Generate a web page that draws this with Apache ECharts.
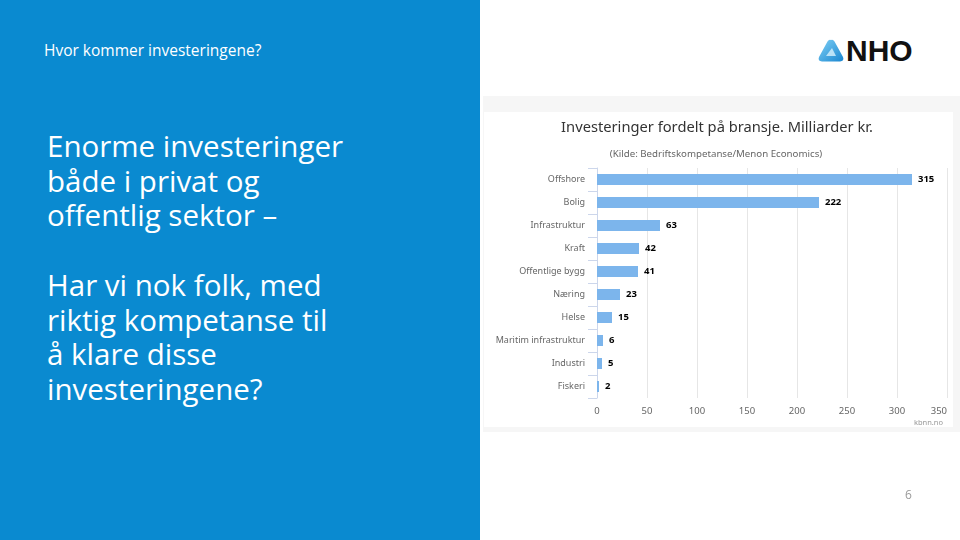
<!DOCTYPE html>
<html>
<head>
<meta charset="utf-8">
<script src="https://cdn.jsdelivr.net/npm/echarts@6/dist/echarts.min.js"></script>
<style>
  html, body { margin: 0; padding: 0; width: 960px; height: 540px; overflow: hidden; background: #fff; }
  .slide { position: relative; width: 960px; height: 540px; font-family: 'Open Sans', 'Noto Sans', sans-serif; }
  .left-panel { position: absolute; left: 0; top: 0; width: 480px; height: 540px; background: #0a8ad0; }
  .kicker { position: absolute; left: 44px; top: 39px; font-size: 15.5px; color: #fff; }
  .headline { position: absolute; left: 47px; font-size: 29.5px; line-height: 34.5px; color: #fff; }
  .img-frame { position: absolute; left: 483px; top: 96px; width: 477px; height: 336px; background: #f6f6f6; }
  .img-inner { position: absolute; left: 484px; top: 112px; width: 469px; height: 315px; background: #fff; }
  #chart { position: absolute; left: 0; top: 0; width: 960px; height: 540px; }
  .logo { position: absolute; left: 817px; top: 34px; display: flex; align-items: center; }
  .logo span { font-family: 'Liberation Sans', Arial, sans-serif; font-size: 30px; font-weight: 700; color: #111; margin-left: 1px; }
  .page-no { position: absolute; left: 905px; top: 486px; font-size: 12px; color: #9a9a9a; }
</style>
</head>
<body>
<div class="slide">
  <div class="left-panel">
    <div class="kicker">Hvor kommer investeringene?</div>
    <div class="headline" style="top:129px">Enorme investeringer<br>både i privat og<br>offentlig sektor –</div>
    <div class="headline" style="top:268px">Har vi nok folk, med<br>riktig kompetanse til<br>å klare disse<br>investeringene?</div>
  </div>
  <div class="img-frame"></div>
  <div class="img-inner"></div>
  <div class="logo">
    <svg width="28" height="26" viewBox="0 0 28 26">
      <defs>
        <linearGradient id="lg" x1="0" y1="0" x2="1" y2="1">
          <stop offset="0" stop-color="#7fd0f5"/>
          <stop offset="1" stop-color="#1a86d0"/>
        </linearGradient>
      </defs>
      <path d="M14 2 Q16 1 17.5 3.5 L26 19 Q27.5 23 23 23.5 L5 23.5 Q0.5 23 2 19 L10.5 3.5 Q12 1 14 2 Z" fill="url(#lg)"/>
      <path d="M9 18 L15 10 L19 18 Z" fill="#d8f1fc" opacity="0.8"/>
    </svg>
    <span>NHO</span>
  </div>
  <div id="chart"></div>
  <div class="page-no">6</div>
</div>
<script>
const categories = ['Offshore', 'Bolig', 'Infrastruktur', 'Kraft', 'Offentlige bygg', 'Næring', 'Helse', 'Maritim infrastruktur', 'Industri', 'Fiskeri'];
const values = [315, 222, 63, 42, 41, 23, 15, 6, 5, 2];

const chart = echarts.init(document.getElementById('chart'), null, { renderer: 'canvas' });

chart.setOption({
  backgroundColor: 'transparent',
  animation: false,
  textStyle: { fontFamily: "'Noto Sans', 'Open Sans', sans-serif" },
  title: [
    {
      text: 'Investeringer fordelt på bransje. Milliarder kr.',
      left: 712,
      top: 115,
      textAlign: 'center',
      textStyle: { fontSize: 14.7, fontWeight: 'normal', color: '#333' }
    },
    {
      text: '(Kilde: Bedriftskompetanse/Menon Economics)',
      left: 711,
      top: 144,
      textAlign: 'center',
      textStyle: { fontSize: 9.7, fontWeight: 'normal', color: '#666' }
    },
    {
      text: 'kbnn.no',
      right: 12,
      top: 414,
      textStyle: { fontSize: 7.5, fontWeight: 'normal', color: '#999' }
    }
  ],
  grid: { left: 597, right: 13, top: 168, height: 230 },
  xAxis: {
    type: 'value',
    min: 0,
    max: 350,
    interval: 50,
    axisLine: { show: false },
    axisTick: { show: false },
    axisLabel: { color: '#666', fontSize: 9.5, margin: 8, alignMaxLabel: 'right' },
    splitLine: { lineStyle: { color: '#e6e6e6', width: 1 } }
  },
  yAxis: {
    type: 'category',
    data: categories,
    inverse: true,
    axisLine: { lineStyle: { color: '#ccd6eb' } },
    axisTick: { show: true, length: 9, lineStyle: { color: '#ccd6eb' } },
    axisLabel: { color: '#666', fontSize: 9, margin: 12 }
  },
  series: [{
    type: 'bar',
    data: values,
    barWidth: 11,
    itemStyle: { color: '#7cb5ec' },
    label: {
      show: true,
      position: 'right',
      distance: 6,
      color: '#000',
      fontSize: 9.5,
      fontWeight: 'bold'
    }
  }]
});
</script>
</body>
</html>
